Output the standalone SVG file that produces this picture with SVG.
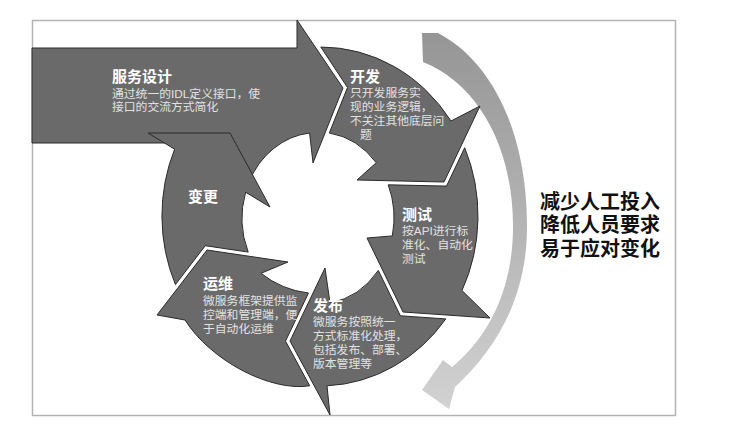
<svg xmlns="http://www.w3.org/2000/svg" width="732" height="431" viewBox="0 0 732 431">
<defs>
<linearGradient id="sw" x1="0" y1="0" x2="0" y2="1">
<stop offset="0" stop-color="#959595"/>
<stop offset="1" stop-color="#d2d2d2"/>
</linearGradient>
<style>
.seg{fill:#6a6a6a;stroke:#2b2b2b;stroke-width:1;stroke-linejoin:miter}
.t{font-family:"Liberation Sans","Noto Sans CJK SC",sans-serif;font-size:15px;font-weight:bold;fill:#fff}
.b{font-family:"Liberation Sans","Noto Sans CJK SC",sans-serif;font-size:11.8px;fill:#e2e2e2}
.r{font-family:"Liberation Sans","Noto Sans CJK SC",sans-serif;font-size:20px;font-weight:bold;fill:#111}
</style>
</defs>
<rect width="732" height="431" fill="#fff"/>
<rect x="32.5" y="20.5" width="643" height="395" fill="#fff" stroke="#b3b3b3" stroke-width="1.5"/>
<g id="connectors">
<path id="swoosh" d="M422,33 L438,33 C490,60 528,130 527,230 C526,300 495,350 455,387 L449,409 L422,390 L443,360 L452,367 C485,340 512,295 513,230 C514,150 480,85 423,62 Z" fill="url(#sw)"/>
</g>
<g id="node-design">
<path class="seg" d="M32,48 L297,48 L297,20 L343,88 L313,163 L309.6,133 A76,86 0 0 0 249.1,181.6 L170,143 L32,143 Z"/>
<text class="t" x="112" y="82">服务设计</text>
<text class="b"><tspan x="112" y="97.5">通过统一的IDL定义接口，使</tspan><tspan x="112" y="111">接口的交流方式简化</tspan></text>
</g>
<g id="node-dev">
<path class="seg" d="M320.8,47 A158,170 0 0 1 451,121 L480,106 L444,182 L357,180 L376.2,162.7 A76,86 0 0 0 329.3,133 L347.5,87.5 Z"/>
<text class="t" x="350" y="82">开发</text>
<text class="b"><tspan x="350" y="97">只开发服务实</tspan><tspan x="350" y="111">现的业务逻辑，</tspan><tspan x="350" y="125">不关注其他底层问</tspan><tspan x="360" y="139">题</tspan></text>
</g>
<g id="node-test">
<path class="seg" d="M464.7,147.7 A158,170 0 0 1 462,290.5 L490,318 L403,312 L367,238 L392.3,235.9 A76,86 0 0 0 388.2,184.8 L446.5,186.1 Z"/>
<text class="t" x="402" y="220">测试</text>
<text class="b"><tspan x="402" y="235">按API进行标</tspan><tspan x="402" y="249">准化、自动化</tspan><tspan x="402" y="263">测试</tspan></text>
</g>
<g id="node-release">
<path class="seg" d="M445.8,318.9 A158,170 0 0 1 327,385.8 L330,415 L290,341 L325,268 L330,302.9 A76,86 0 0 0 378.3,270.4 L400.4,315.8 Z"/>
<text class="t" x="313" y="311">发布</text>
<text class="b"><tspan x="313" y="326">微服务按照统一</tspan><tspan x="313" y="340">方式标准化处理，</tspan><tspan x="313" y="354">包括发布、部署、</tspan><tspan x="313" y="368">版本管理等</tspan></text>
</g>
<g id="node-ops">
<path class="seg" d="M309.7,385.8 C270,392 210,360 185,320 L157,315 L207,250 L288,262 L261,273.3 Q282,290 308.5,293 L285.5,341.1 Z"/>
<text class="t" x="203" y="289">运维</text>
<text class="b"><tspan x="203" y="304.5">微服务框架提供监</tspan><tspan x="203" y="319">控端和管理端，便</tspan><tspan x="203" y="333">于自动化运维</tspan></text>
</g>
<g id="node-change">
<path class="seg" d="M175.4,284.6 A158,170 0 0 1 174.6,149.2 L148,133 L230,133 L270,207 L245.6,192.2 A76,86 0 0 0 248.2,252.1 L205.3,245.7 Z"/>
<text class="t" x="188" y="202">变更</text>
</g>
<g id="note">
<text class="r"><tspan x="540" y="209">减少人工投入</tspan><tspan x="540" y="232">降低人员要求</tspan><tspan x="540" y="256">易于应对变化</tspan></text>
</g>
</svg>
